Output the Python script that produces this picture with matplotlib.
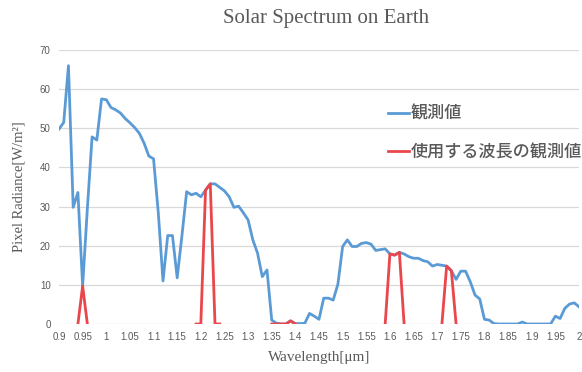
import numpy as np
import matplotlib
matplotlib.use("Agg")
import matplotlib.pyplot as plt

# wavelength categories 0.90 .. 2.00 step 0.01
wavelength = [round(0.9 + 0.01 * i, 2) for i in range(111)]

measured = [
    49.8, 51.5, 66.0, 29.8, 33.6, 9.7, 29.5, 47.8, 47.0, 57.5,
    57.3, 55.3, 54.7, 53.9, 52.5, 51.4, 50.2, 48.7, 46.2, 42.9,
    42.2, 28.5, 11.0, 22.6, 22.6, 11.8, 22.5, 33.8, 33.0, 33.4,
    32.5, 34.2, 35.8, 35.8, 34.9, 34.0, 32.5, 29.8, 30.1, 28.4,
    26.6, 21.5, 18.1, 12.1, 13.8, 1.0, 0.2, 0.0, 0.0, 0.8,
    0.1, 0.1, 0.2, 2.7, 2.0, 1.2, 6.6, 6.6, 6.1, 10.2,
    19.8, 21.5, 19.8, 19.8, 20.6, 20.8, 20.4, 18.8, 19.0, 19.2,
    17.9, 17.6, 18.3, 17.9, 17.2, 16.8, 16.8, 16.2, 15.9, 14.8,
    15.2, 15.0, 14.8, 13.6, 11.4, 13.5, 13.5, 10.8, 7.4, 6.4,
    1.2, 1.0, 0.1, 0.0, 0.0, 0.0, 0.0, 0.0, 0.5, 0.0,
    0.0, 0.0, 0.0, 0.0, 0.0, 2.0, 1.4, 4.0, 5.1, 5.4,
    4.4,
]

# bands actually used (drawn as separate segments)
band_x = [
    [0.94, 0.95, 0.96],
    [1.19, 1.20, 1.21, 1.22, 1.23, 1.24],
    [1.35, 1.36, 1.37, 1.38, 1.39, 1.40],
    [1.59, 1.60, 1.61, 1.62, 1.63],
    [1.71, 1.72, 1.73, 1.74],
]
band_y = [
    [0, 9.7, 0],
    [0, 0, 34.2, 35.8, 0, 0],
    [0, 0, 0, 0, 0.8, 0],
    [0, 17.9, 17.6, 18.3, 0],
    [0, 14.8, 13.6, 0],
]

tick_vals = [round(0.9 + 0.05 * i, 2) for i in range(23)]
tick_labels = ["%g" % v for v in tick_vals]

blue = "#5B9BD5"
red = "#E9474C"
gray = "#595959"

fig = plt.figure(figsize=(5.82, 3.72), dpi=100)
ax = fig.add_axes([59 / 582, 48 / 372, 520 / 582, 274 / 372])

ax.plot(wavelength, measured, color=blue, lw=2.0, label="観測値", zorder=3)
for k, (bx, by) in enumerate(zip(band_x, band_y)):
    ax.plot(bx, by, color=red, lw=2.0, zorder=4,
            label="使用する波長の観測値" if k == 0 else None)

ax.set_xlim(0.9, 2.0)
ax.set_ylim(0, 70)
ax.set_yticks(range(0, 71, 10))
ax.set_xticks(tick_vals)
ax.set_xticklabels(tick_labels)
ax.tick_params(length=0, labelsize=7, colors=gray, pad=6)
for lab in ax.get_xticklabels() + ax.get_yticklabels():
    lab.set_family("Liberation Sans")
ax.grid(axis="y", color="#D9D9D9", lw=0.9)
ax.set_axisbelow(True)
for s in ax.spines.values():
    s.set_visible(False)

fig.text(326 / 582, 1 - 19 / 372, "Solar Spectrum on Earth", ha="center", va="center",
         family="Liberation Serif", fontsize=15, color=gray)
ax.set_xlabel("Wavelength[μm]", family="Liberation Serif", fontsize=11, color=gray, labelpad=6)
ax.set_ylabel("Pixel Radiance[W/m²]", family="Liberation Serif", fontsize=10.5, color=gray, labelpad=10)

leg = ax.legend(loc="upper left", bbox_to_anchor=(379 / 582, 1 - 96 / 372),
                bbox_transform=fig.transFigure, frameon=False, handlelength=1.25,
                handletextpad=0.1, labelspacing=1.2, borderpad=0,
                prop={"family": ["Noto Sans CJK JP", "DejaVu Sans"], "size": 12.3, "weight": "medium"})
for t in leg.get_texts():
    t.set_color(gray)

fig.savefig("out.png", dpi=100)
